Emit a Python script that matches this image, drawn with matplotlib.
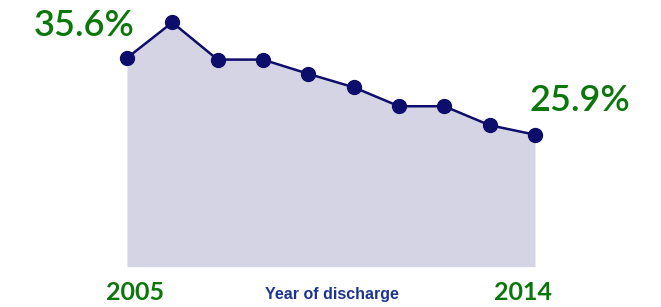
import numpy as np
from matplotlib import pyplot as plt

years = [2005, 2006, 2007, 2008, 2009, 2010, 2011, 2012, 2013, 2014]
rate = [35.6, 40.1, 35.4, 35.4, 33.6, 31.9, 29.5, 29.5, 27.1, 25.9]
base = 9.2

W, H = 661, 307
fig = plt.figure(figsize=(W / 100, H / 100), dpi=100)
ax = fig.add_axes([0, 0, 1, 1])
ax.set_xlim(2002.20, 2016.78)
ax.set_ylim(4.10, 42.94)
ax.axis('off')

navy = '#0d0d6b'
green = '#0b770b'
ax.fill_between(years, rate, base, color='#d4d4e5', lw=0)
ax.plot(years, rate, color=navy, lw=1.8, marker='o', ms=10)


def px(x, y):
    return x / W, 1 - y / H


fig.text(*px(84, 26), f'{rate[0]}%', color=green, fontsize=26, family='Lato',
         weight='semibold', ha='center', va='center')
fig.text(*px(580, 101), f'{rate[-1]}%', color=green, fontsize=26, family='Lato',
         weight='semibold', ha='center', va='center')
fig.text(*px(135.5, 292), str(years[0]), color=green, fontsize=18, family='Lato',
         weight='bold', ha='center', va='center')
fig.text(*px(523, 292), str(years[-1]), color=green, fontsize=18, family='Lato',
         weight='bold', ha='center', va='center')
fig.text(*px(332, 294), 'Year of discharge', color='#1d3592', fontsize=11.5,
         family='Liberation Sans', weight='bold',
         ha='center', va='center')

fig.savefig('out.png', dpi=100)
